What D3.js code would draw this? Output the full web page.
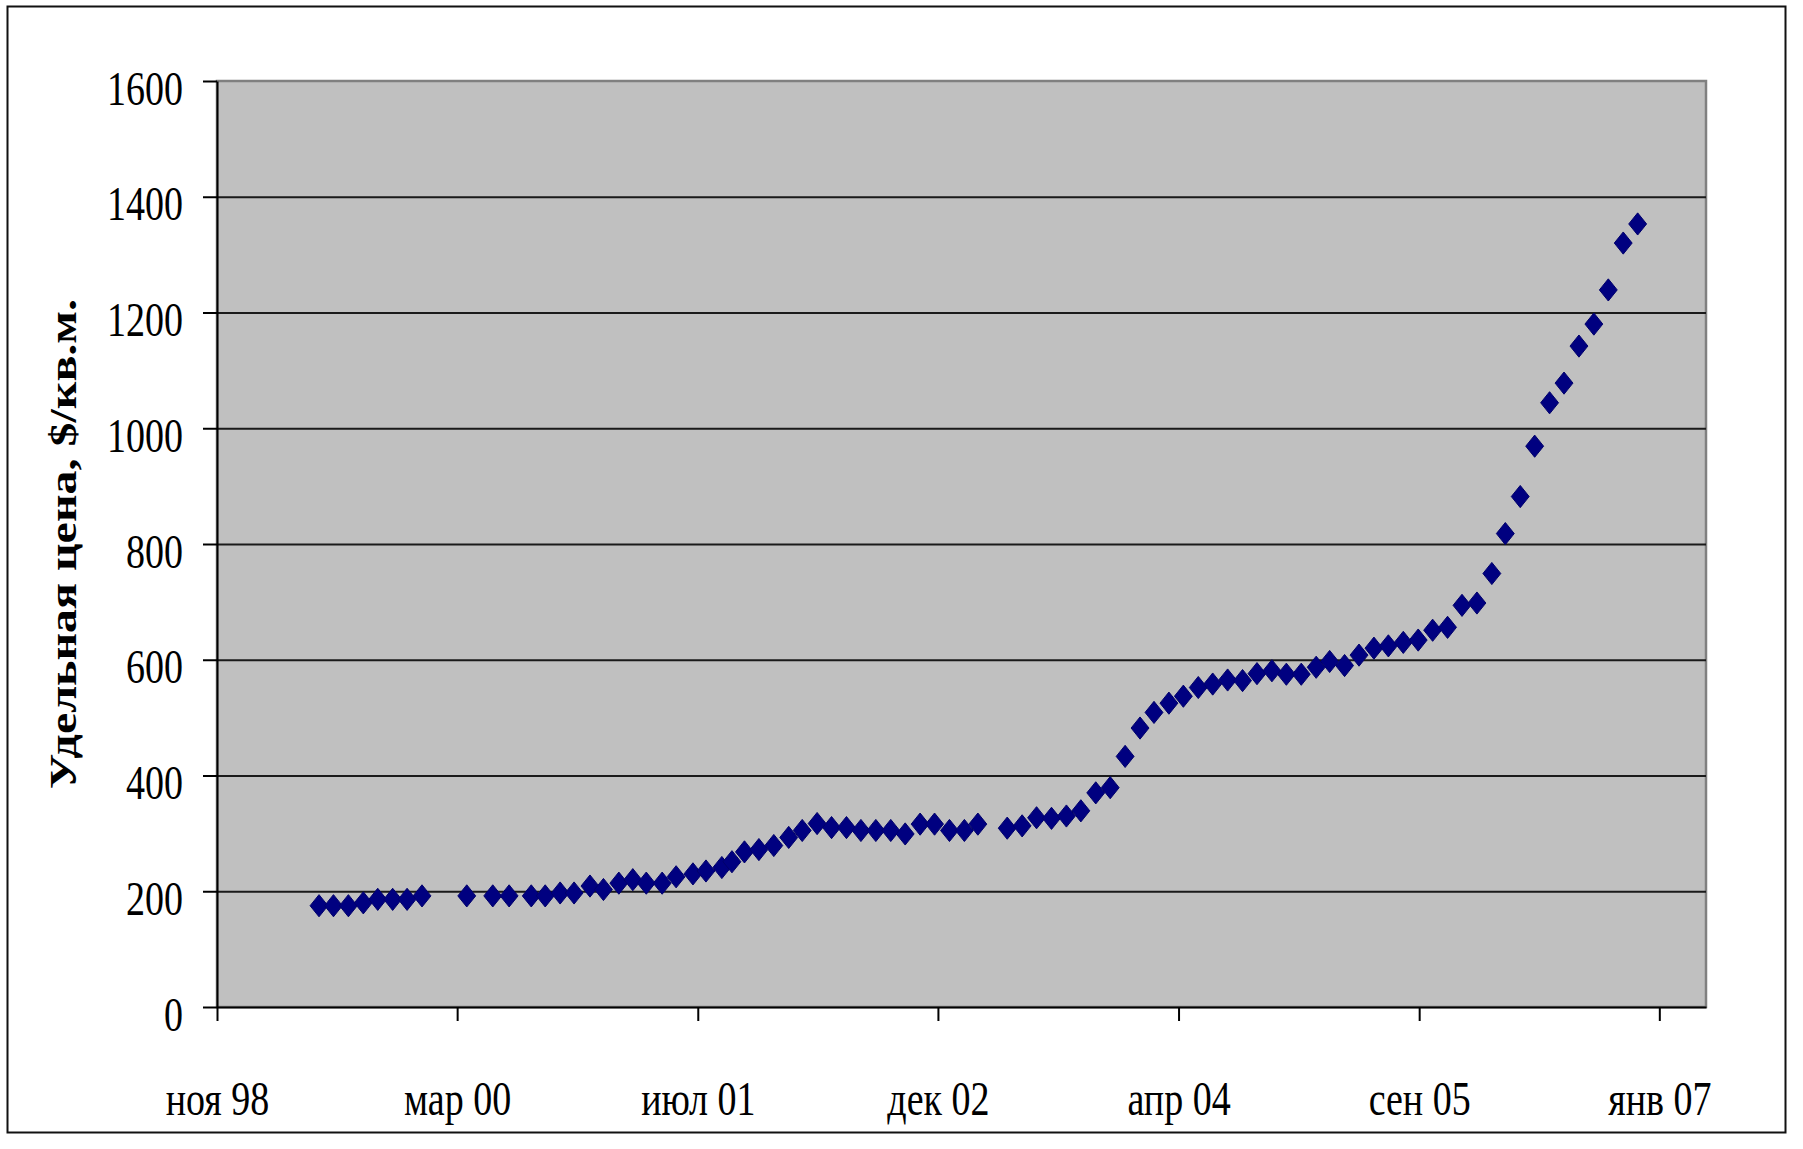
<!DOCTYPE html>
<html>
<head>
<meta charset="utf-8">
<script src="https://cdn.jsdelivr.net/npm/d3@7"></script>
<style>
  html, body { margin: 0; padding: 0; background: #fff; }
  svg { display: block; }
  text { font-family: "Liberation Serif", "Times New Roman", serif; fill: #000; }
</style>
</head>
<body>
<svg id="chart" width="1803" height="1149"></svg>
<script>
// ---- data ----
const dates = [
  "1999-06-01","1999-07-01","1999-08-01","1999-09-01","1999-10-01","1999-11-01","1999-12-01","2000-01-01",
  "2000-04-03","2000-05-27","2000-06-30","2000-08-15","2000-09-13","2000-10-14","2000-11-12","2000-12-15",
  "2001-01-12","2001-02-13","2001-03-14","2001-04-11","2001-05-14","2001-06-12","2001-07-17","2001-08-13",
  "2001-09-15","2001-10-06","2001-11-01","2001-12-01","2002-01-01","2002-02-01","2002-03-01","2002-04-01",
  "2002-05-01","2002-06-01","2002-07-01","2002-08-01","2002-09-01","2002-10-01","2002-11-01","2002-12-01",
  "2003-01-01","2003-02-01","2003-03-01","2003-05-01","2003-06-01","2003-07-01","2003-08-01","2003-09-01",
  "2003-10-01","2003-11-01","2003-12-01","2004-01-01","2004-02-01","2004-03-01","2004-04-01","2004-05-01",
  "2004-06-01","2004-07-01","2004-08-01","2004-09-01","2004-10-01","2004-11-01","2004-12-01","2005-01-01",
  "2005-02-01","2005-03-01","2005-04-01","2005-05-01","2005-06-01","2005-07-01","2005-08-01","2005-09-01",
  "2005-10-01","2005-11-01","2005-12-01","2006-01-01","2006-02-01","2006-03-01","2006-04-01","2006-05-01",
  "2006-06-01","2006-07-01","2006-08-01","2006-09-01","2006-10-01","2006-11-01","2006-12-01"
];
const prices = [
  175,175,175,180,186,186,186,192,
  192,192,192,192,192,197,197,209,
  203,214,220,214,214,225,230,235,
  241,251,268,272,279,293,305,317,
  310,310,305,305,305,299,316,316,
  305,305,316,309,313,327,326,330,
  339,370,379,433,482,509,525,537,
  552,558,565,564,576,581,575,575,
  587,597,590,608,620,624,630,634,
  651,656,694,698,749,818,882,969,
  1044,1078,1142,1180,1239,1320,1353
];
const yTicks = [0,200,400,600,800,1000,1200,1400,1600];
const xTickDates = ["1998-11-01","2000-03-14","2001-07-27","2002-12-08","2004-04-21","2005-09-03","2007-01-15"];
const xTickLabels = ["ноя 98","мар 00","июл 01","дек 02","апр 04","сен 05","янв 07"];
const xDomain = ["1998-11-01","2007-04-22"];
const yDomain = [0,1600];
const yTitle = "Удельная цена, $/кв.м.";

// ---- layout ----
const parse = d3.utcParse("%Y-%m-%d");
const svg = d3.select("#chart");
const plot = {left: 217, top: 81, right: 1706, bottom: 1007};
const W = plot.right - plot.left, H = plot.bottom - plot.top;
const stretch = 1.25;

// outer border
svg.append("rect").attr("x", 7.5).attr("y", 6.5).attr("width", 1778).attr("height", 1126)
  .attr("fill", "#fff").attr("stroke", "#111").attr("stroke-width", 2);

const x = d3.scaleUtc().domain(xDomain.map(parse)).range([0, W]);
const y = d3.scaleLinear().domain(yDomain).range([H, 0]);

const g = svg.append("g").attr("transform", `translate(${plot.left},${plot.top})`);

// plot area
g.append("rect").attr("width", W).attr("height", H).attr("fill", "#c0c0c0")
  .attr("stroke", "#808080").attr("stroke-width", 2.5);

// gridlines
g.append("g").attr("class", "grid")
  .call(d3.axisLeft(y).tickValues(yTicks.filter(v => v > yDomain[0] && v < yDomain[1])).tickSize(-W).tickFormat(""))
  .call(s => s.select(".domain").remove())
  .call(s => s.selectAll("line").attr("stroke", "#1a1a1a").attr("stroke-width", 2));

// y axis
const yAxis = g.append("g")
  .call(d3.axisLeft(y).tickValues(yTicks).tickFormat(d3.format("d")).tickSize(14).tickSizeOuter(0));
yAxis.select(".domain").attr("stroke", "#000").attr("stroke-width", 2);
yAxis.selectAll(".tick line").attr("stroke", "#000").attr("stroke-width", 2);
yAxis.selectAll(".tick text")
  .attr("x", null).attr("dy", null)
  .attr("transform", `translate(-34,23) scale(1,${stretch})`)
  .attr("text-anchor", "end").attr("font-size", 38).attr("fill", "#000");

// x axis
const xAxis = g.append("g").attr("transform", `translate(0,${H})`)
  .call(d3.axisBottom(x).tickValues(xTickDates.map(parse))
    .tickFormat((d, i) => xTickLabels[i]).tickSize(14).tickSizeOuter(0));
xAxis.select(".domain").attr("stroke", "#000").attr("stroke-width", 2);
xAxis.selectAll(".tick line").attr("stroke", "#000").attr("stroke-width", 2);
xAxis.selectAll(".tick text")
  .attr("y", null).attr("dy", null)
  .attr("transform", `translate(0,108) scale(1,${stretch})`)
  .attr("text-anchor", "middle").attr("font-size", 38).attr("fill", "#000");

// markers
const diamond = d3.symbol().type(d3.symbolSquare).size(160);
g.append("g").selectAll("path")
  .data(dates.map((d, i) => ({date: parse(d), value: prices[i]})))
  .join("path")
  .attr("d", diamond)
  .attr("transform", d => `translate(${x(d.date)},${y(d.value)}) scale(1,1.24) rotate(45)`)
  .attr("fill", "#000080").attr("stroke", "#00006a").attr("stroke-width", 0.8);

// y title
const title = svg.append("text")
  .attr("font-size", 37).attr("font-weight", "bold")
  .attr("text-anchor", "middle")
  .text(yTitle);
const natural = title.node().getComputedTextLength();
const targetLen = 490;
title.attr("transform", `translate(76,544) rotate(-90) scale(${targetLen / natural},1)`);
</script>
</body>
</html>
